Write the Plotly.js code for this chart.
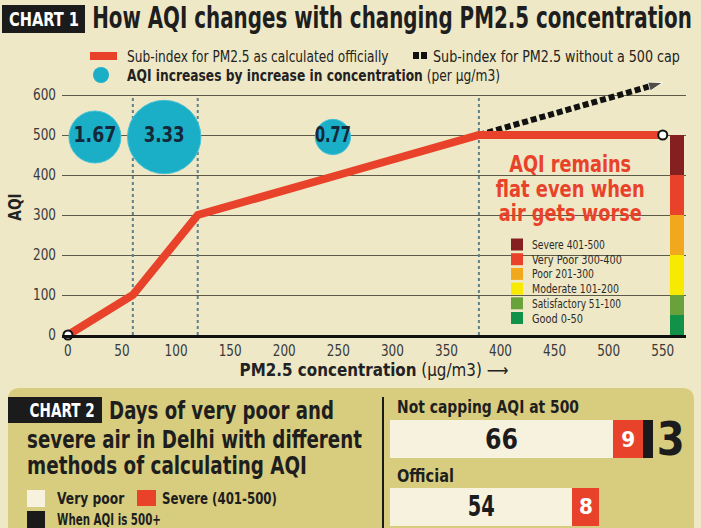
<!DOCTYPE html>
<html>
<head>
<meta charset="utf-8">
<script src="https://cdn.plot.ly/plotly-3.0.1.min.js"></script>
<style>html,body{margin:0;padding:0;background:#efe8c6;}#chart{width:701px;height:528px;}</style>
</head>
<body>
<div id="chart"></div>
<script>
// ---------- DATA ----------
const PM = [0, 30, 60, 90, 120, 250, 380, 550];
const AQI_OFFICIAL = [0, 50, 100, 200, 300, 400, 500, 500];
const UNCAPPED_PM = [380, 550];
const UNCAPPED_AQI = [500, 631];
const BREAKS = [60, 120, 380];
const BUBBLE_PM = [25, 89, 245];
const BUBBLE_AQI = [495, 495, 495];
const BUBBLE_RATE = [1.67, 3.33, 0.77];
const BAND_NAMES = ['Good 0-50', 'Satisfactory 51-100', 'Moderate 101-200', 'Poor 201-300', 'Very Poor 300-400', 'Severe 401-500'];
const BAND_SIZE = [50, 50, 100, 100, 100, 100];
const BAND_COLORS = ['#129149', '#69a23a', '#f7ea00', '#f2a81d', '#e8432a', '#84201f'];
const BAND_X = 563;
const X_TICKS = [0, 50, 100, 150, 200, 250, 300, 350, 400, 450, 500, 550];
const Y_TICKS = [0, 100, 200, 300, 400, 500, 600];

const METHODS = ['Official', 'Not capping AQI at 500'];
const VERY_POOR_DAYS = [54, 66];
const SEVERE_DAYS = [8, 9];
const OVER500_DAYS = [null, 3];
const C2_LEGEND = ['Very poor', 'Severe (401-500)', 'When AQI is 500+'];

// ---------- HELPERS ----------
const W = 701, H = 528;
const F = "'DejaVu Sans Condensed', 'DejaVu Sans', sans-serif";
const px = x => x / W, py = y => 1 - y / H;
const annotations = [];
const annWidth = [];   // target rendered widths (px) for condensing text
function ann(text, x, y, o) {
  o = o || {};
  annotations.push({xref: 'paper', yref: 'paper', x: px(x), y: py(y), text: text, showarrow: false,
    xanchor: o.xa || 'left', yanchor: o.ya || 'middle',
    font: {family: F, size: o.size || 13, color: o.color || '#222', weight: o.weight || 'normal'}});
  annWidth.push(o.w || 0);
}
function rect(x0, y0, x1, y1, color, extra) {
  return Object.assign({type: 'rect', xref: 'paper', yref: 'paper', x0: px(x0), x1: px(x1), y0: py(y1), y1: py(y0),
    fillcolor: color, line: {width: 0}, layer: 'below'}, extra || {});
}
const C_RED = '#e8432a', C_CREAM = '#f7f2de', C_BLACK = '#1a1a1a', C_CYAN = '#1bafc7', C_INK = '#1e1e1e';

// ---------- TRACES ----------
const traces = [];
traces.push({x: BREAKS.flatMap(b => [b, b, null]), y: BREAKS.flatMap(() => [0, 600, null]),
  mode: 'lines', line: {color: '#5f7f8c', width: 2, dash: '3px,3px'}, hoverinfo: 'skip', showlegend: false});
BAND_SIZE.forEach((s, i) => traces.push({type: 'bar', x: [BAND_X], y: [s], width: 13,
  marker: {color: BAND_COLORS[i], line: {width: 0}}, name: BAND_NAMES[i], showlegend: false, xaxis: 'x', yaxis: 'y'}));
traces.push({x: UNCAPPED_PM, y: UNCAPPED_AQI, mode: 'lines+markers', cliponaxis: false,
  line: {color: '#111', width: 6, dash: '6px,3px'},
  marker: {symbol: 'arrow', size: [0, 15], angleref: 'previous', color: '#111'}, showlegend: false});
traces.push({x: PM, y: AQI_OFFICIAL, mode: 'lines', line: {color: C_RED, width: 8}, showlegend: false});
traces.push({x: [PM[0], PM[PM.length - 1]], y: [AQI_OFFICIAL[0], AQI_OFFICIAL[AQI_OFFICIAL.length - 1]],
  mode: 'markers', cliponaxis: false, marker: {color: '#fff', size: 9, line: {color: '#111', width: 2}}, showlegend: false});
traces.push({x: BUBBLE_PM, y: BUBBLE_AQI, mode: 'markers+text', text: BUBBLE_RATE.map(v => v.toFixed(2)),
  textposition: 'middle center', textfont: {family: F, size: 22, color: '#15283a', weight: 'bold'},
  marker: {size: BUBBLE_RATE, sizemode: 'area', sizeref: 2 * 1.67 / (52 * 52), opacity: 1, color: C_CYAN, line: {color: '#45c2d6', width: 1}},
  showlegend: false, cliponaxis: false});

const hb = {type: 'bar', orientation: 'h', y: METHODS, width: 0.57, xaxis: 'x2', yaxis: 'y2', showlegend: false,
  textposition: 'inside', insidetextanchor: 'middle', constraintext: 'none', cliponaxis: false, hoverinfo: 'skip'};
traces.push(Object.assign({}, hb, {x: VERY_POOR_DAYS, text: VERY_POOR_DAYS.map(String), marker: {color: C_CREAM},
  textfont: {family: F, size: 28, color: '#1c1c1c', weight: 'bold'}}));
traces.push(Object.assign({}, hb, {x: SEVERE_DAYS, text: SEVERE_DAYS.map(String), marker: {color: C_RED},
  textfont: {family: F, size: 22, color: '#ffffff', weight: 'bold'}}));
traces.push(Object.assign({}, hb, {x: OVER500_DAYS, text: OVER500_DAYS.map(v => v == null ? '' : String(v)), marker: {color: C_BLACK},
  textposition: 'outside', textfont: {family: F, size: 46, color: '#1c1c1c', weight: 'bold'}}));

// ---------- ANNOTATIONS / SHAPES ----------
const shapes = [];
const r = 12;
shapes.push({type: 'path', xref: 'paper', yref: 'paper', layer: 'below', fillcolor: '#d8cd7e', line: {width: 0},
  path: `M ${px(8)} ${py(540)} L ${px(8)} ${py(388 + r)} Q ${px(8)} ${py(388)} ${px(8 + r)} ${py(388)} L ${px(694 - r)} ${py(388)} Q ${px(694)} ${py(388)} ${px(694)} ${py(388 + r)} L ${px(694)} ${py(540)} Z`});
// chart 1 header
shapes.push(rect(2, 5, 85, 33, '#1b1b1b'));
ann('CHART 1', 44, 19, {xa: 'center', size: 19, color: '#fff', weight: 'bold', w: 70});
ann('How AQI changes with changing PM2.5 concentration', 90, 18, {size: 30, color: C_INK, weight: 'bold', w: 600});
// top legend
shapes.push({type: 'line', xref: 'paper', yref: 'paper', x0: px(90), x1: px(117), y0: py(56), y1: py(56), line: {color: C_RED, width: 8}});
shapes.push(rect(413, 52, 419, 59, '#111', {layer: 'above'}));
shapes.push(rect(421, 52, 427, 59, '#111', {layer: 'above'}));
shapes.push({type: 'circle', xref: 'paper', yref: 'paper', x0: px(93), x1: px(109), y0: py(83), y1: py(67), fillcolor: C_CYAN, line: {width: 0}});
ann('Sub-index for PM2.5 as calculated officially', 125, 56, {size: 16, w: 262});
ann('Sub-index for PM2.5 without a 500 cap', 431, 56, {size: 16, w: 247});
ann('<b>AQI increases by increase in concentration</b> (per µg/m3)', 125, 76, {size: 16, w: 373});
// red callout
ann('AQI remains', 570, 164, {xa: 'center', size: 23, color: C_RED, weight: 'bold', w: 122});
ann('flat even when', 570, 189, {xa: 'center', size: 23, color: C_RED, weight: 'bold', w: 149});
ann('air gets worse', 570, 213, {xa: 'center', size: 23, color: C_RED, weight: 'bold', w: 143});
// band legend (top = severe)
const bandW = [51, 89, 87, 62, 90, 73];
for (let i = BAND_NAMES.length - 1, row = 0; i >= 0; i--, row++) {
  const y = 244.5 + row * 14.7;
  shapes.push(rect(511, y - 6, 523, y + 6, BAND_COLORS[i], {layer: 'above'}));
  ann(BAND_NAMES[i], 530, y, {size: 13, color: '#2a2a2a', w: bandW[i]});
}
// chart 2 header
shapes.push(rect(8, 397, 102, 423, '#1b1b1b', {layer: 'above'}));
ann('CHART 2', 62, 410, {xa: 'center', size: 20, color: '#fff', weight: 'bold', w: 65});
ann('Days of very poor and', 107, 411, {size: 24, color: C_INK, weight: 'bold', w: 225});
ann('severe air in Delhi with different', 25, 440, {size: 24, color: C_INK, weight: 'bold', w: 335});
ann('methods of calculating AQI', 25, 466, {size: 24, color: C_INK, weight: 'bold', w: 280});
// chart 2 legend
shapes.push(rect(27, 490, 45, 507, C_CREAM, {layer: 'above'}));
shapes.push(rect(137, 490, 156, 506, C_RED, {layer: 'above'}));
shapes.push(rect(27, 511, 45, 528, C_BLACK, {layer: 'above'}));
ann(C2_LEGEND[0], 55, 498, {size: 16, color: C_INK, weight: 'bold', w: 68});
ann(C2_LEGEND[1], 160, 498, {size: 16, color: C_INK, weight: 'bold', w: 115});
ann(C2_LEGEND[2], 55, 519, {size: 16, color: C_INK, weight: 'bold', w: 104});
// chart 2 divider and method labels
shapes.push({type: 'line', xref: 'paper', yref: 'paper', x0: px(383), x1: px(383), y0: py(397), y1: 0, line: {color: '#1a1a1a', width: 2}});
ann(METHODS[1], 395, 406, {size: 18, color: C_INK, weight: 'bold', w: 182});
ann(METHODS[0], 395, 475, {size: 18, color: C_INK, weight: 'bold', w: 57});

// ---------- LAYOUT ----------
const layout = {
  width: W, height: H, margin: {l: 0, r: 0, t: 0, b: 0},
  paper_bgcolor: '#efe8c6', plot_bgcolor: 'rgba(0,0,0,0)',
  font: {family: F, color: '#333'},
  barmode: 'stack', bargap: 0,
  xaxis: {domain: [px(62), px(686)], range: [-5.5, 571.5], anchor: 'y',
    tickvals: X_TICKS, ticks: '', showgrid: false, zeroline: false,
    showline: true, linecolor: '#111', linewidth: 3, tickfont: {family: F, size: 15, color: '#3a3a3a'},
    title: {text: '<b>PM2.5 concentration</b> (µg/m3) ⟶', font: {family: F, size: 17, color: '#222'}, standoff: 3}},
  yaxis: {domain: [py(335), py(79)], range: [0, 640], anchor: 'x',
    tickvals: Y_TICKS, ticks: '', showgrid: true, gridcolor: '#5e5a4a', gridwidth: 1, zeroline: false, showline: false,
    tickfont: {family: F, size: 15, color: '#3a3a3a'}, ticklabelstandoff: 5,
    title: {text: '<b>AQI</b>', font: {family: F, size: 18, color: '#222'}, standoff: 3}},
  xaxis2: {domain: [px(390), px(694)], range: [0, 90], anchor: 'y2', visible: false},
  yaxis2: {domain: [0, 0.207], range: [-0.31, 1.3], anchor: 'x2', visible: false, type: 'category', categoryarray: METHODS},
  showlegend: false,
  annotations: annotations, shapes: shapes
};

// horizontally condense text (the original uses a condensed typeface)
function squeeze(el, s, mode) {
  if (!el || !isFinite(s) || s <= 0) return;
  const b = el.getBBox();
  if (mode === 'auto') {
    const ta = el.getAttribute('text-anchor') || 'start';
    mode = ta === 'middle' ? 'center' : ta === 'end' ? 'right' : 'left';
  }
  const ax = mode === 'left' ? b.x : mode === 'right' ? b.x + b.width : b.x + b.width / 2;
  const t = el.getAttribute('transform') || '';
  el.setAttribute('transform', t + ` translate(${ax},0) scale(${s},1) translate(${-ax},0)`);
}
function condense(gd) {
  gd.querySelectorAll('g.annotation').forEach(g => {
    const i = +g.getAttribute('data-index');
    const el = g.querySelector('text.annotation-text');
    if (!el || !annWidth[i]) return;
    squeeze(el, annWidth[i] / el.getBBox().width, annotations[i].xanchor === 'left' ? 'left' : 'center');
  });
  let tickScale = 0.8;
  gd.querySelectorAll('.ytick text').forEach(el => { if (el.textContent === '600') tickScale = 23 / el.getBBox().width; });
  gd.querySelectorAll('.xtick text, .ytick text').forEach(el => squeeze(el, tickScale, 'auto'));
  const valueW = {'66': 33, '54': 27, '9': 14, '8': 14, '3': 28, '1.67': 43, '3.33': 41, '0.77': 36};
  gd.querySelectorAll('text.bartext, .textpoint text').forEach(el => {
    const w = valueW[el.textContent];
    if (w) squeeze(el, w / el.getBBox().width, 'center');
  });
  const xt = gd.querySelector('.xtitle'); if (xt) squeeze(xt, 269 / xt.getBBox().width, 'center');
  const yt = gd.querySelector('.ytitle'); if (yt) squeeze(yt, 0.85, 'center');
}
Plotly.newPlot('chart', traces, layout, {staticPlot: true, displayModeBar: false}).then(condense);
</script>
</body>
</html>
